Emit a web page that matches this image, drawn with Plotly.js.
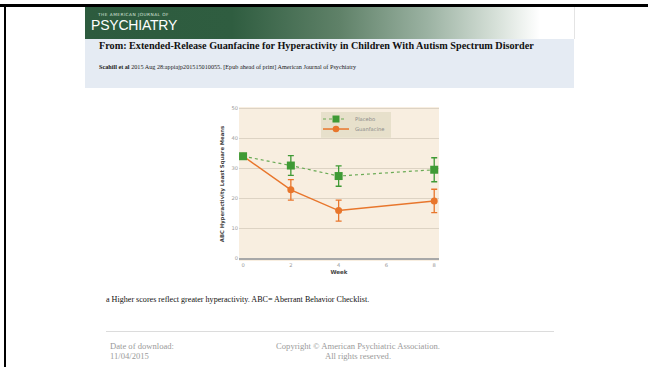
<!DOCTYPE html>
<html>
<head>
<meta charset="utf-8">
<script src="https://cdn.plot.ly/plotly-3.0.1.min.js"></script>
<style>
  html, body { margin:0; padding:0; background:#fff; }
  body { width:648px; height:367px; position:relative; overflow:hidden; font-family:"Liberation Serif","Times New Roman",serif; }
  .topbar { position:absolute; left:0; top:4px; width:648px; height:3px; background:#000; }
  .leftbar { position:absolute; left:4px; top:4px; width:2px; height:363px; background:#000; }
  .banner { position:absolute; left:85px; top:7px; width:489px; height:32px;
    background:linear-gradient(to right, #2d5b3e 0%, #2f5d40 30%, #5f8168 52%, #9bb2a2 70%, #d6e0d8 84%, #ffffff 93%, #ffffff 100%);
    border-right:1px solid #e4e4e4; }
  .banner .small { position:absolute; left:13px; top:5px; font-family:"DejaVu Sans",sans-serif; font-size:4.3px; color:#d8e4da; letter-spacing:0.45px; white-space:nowrap; }
  .banner .big { position:absolute; left:6px; top:10px; font-family:"Liberation Sans",Arial,sans-serif; font-size:14px; color:#fff; white-space:nowrap; letter-spacing:-0.2px; }
  .infobox { position:absolute; left:85px; top:39px; width:489px; height:49px; background:#e5ebf3; }
  .t1 { position:absolute; left:14px; top:1px; font-size:10.2px; font-weight:bold; color:#111; white-space:nowrap; }
  .t2 { position:absolute; left:14px; top:24px; font-size:6.2px; color:#222; white-space:nowrap; }
  .foot { position:absolute; left:106px; top:295px; font-size:8.1px; color:#111; white-space:nowrap; }
  .hr { position:absolute; left:106px; top:331px; width:448px; height:1px; background:#dcdcdc; }
  .dl { position:absolute; left:110px; top:341px; font-size:8.6px; color:#9a9a9a; line-height:10px; white-space:nowrap; }
  .cp { position:absolute; left:238px; width:240px; top:341px; font-size:8.6px; color:#9a9a9a; line-height:10px; text-align:center; white-space:nowrap; }
  #chart { position:absolute; left:200px; top:95px; width:250px; height:185px; }
</style>
</head>
<body>
<div class="topbar"></div>
<div class="leftbar"></div>
<div class="banner">
  <div class="small">THE AMERICAN JOURNAL OF</div>
  <div class="big">PSYCHIATRY</div>
</div>
<div class="infobox">
  <div class="t1">From: Extended-Release Guanfacine for Hyperactivity in Children With Autism Spectrum Disorder</div>
  <div class="t2"><b>Scahill et al</b> 2015 Aug 28:appiajp201515010055. [Epub ahead of print] American Journal of Psychiatry</div>
</div>
<div id="chart"></div>
<div class="foot">a Higher scores reflect greater hyperactivity. ABC= Aberrant Behavior Checklist.</div>
<div class="hr"></div>
<div class="dl">Date of download:<br>11/04/2015</div>
<div class="cp">Copyright © American Psychiatric Association.<br>All rights reserved.</div>
<script>
const weeks = [0, 2, 4, 8];
const placebo = [34.1, 31.0, 27.5, 29.6];
const placeboErr = [0, 3.3, 3.4, 4.0];
const guanfacine = [34.1, 22.9, 16.0, 19.2];
const guanfacineErr = [0, 3.4, 3.5, 3.9];
const xTicks = [0, 2, 4, 6, 8];
const yTicks = [0, 10, 20, 30, 40, 50];
const seriesNames = ['Placebo', 'Guanfacine'];

const green = '#3f9a35';
const orange = '#e8762c';

const traces = [
  {
    x: weeks, y: guanfacine, name: seriesNames[1], type: 'scatter', mode: 'lines+markers',
    line: {color: orange, width: 1.5},
    marker: {color: orange, size: 7, symbol: 'circle'},
    error_y: {type: 'data', array: guanfacineErr, visible: true, color: orange, thickness: 1.3, width: 3}
  },
  {
    x: weeks, y: placebo, name: seriesNames[0], type: 'scatter', mode: 'lines+markers',
    line: {color: '#6aaa55', width: 1.2, dash: 'dot'},
    marker: {color: green, size: 8, symbol: 'square'},
    error_y: {type: 'data', array: placeboErr, visible: true, color: green, thickness: 1.3, width: 3}
  }
];

// compact legend drawn in paper coordinates
const legY = [0.922, 0.857];
const shapes = [
  {type: 'rect', xref: 'paper', yref: 'paper', x0: 0.41, x1: 0.76, y0: 0.80, y1: 0.968,
   fillcolor: '#e7e0cb', line: {width: 0}, layer: 'above'},
  {type: 'line', xref: 'paper', yref: 'paper', x0: 0.42, x1: 0.54, y0: legY[0], y1: legY[0],
   line: {color: '#6aaa55', width: 1.2, dash: 'dot'}},
  {type: 'rect', xref: 'paper', yref: 'paper', xsizemode: 'pixel', ysizemode: 'pixel',
   xanchor: 0.485, yanchor: legY[0], x0: -3.5, x1: 3.5, y0: -3.5, y1: 3.5,
   fillcolor: green, line: {width: 0}},
  {type: 'line', xref: 'paper', yref: 'paper', x0: 0.42, x1: 0.55, y0: legY[1], y1: legY[1],
   line: {color: orange, width: 1.5}},
  {type: 'circle', xref: 'paper', yref: 'paper', xsizemode: 'pixel', ysizemode: 'pixel',
   xanchor: 0.485, yanchor: legY[1], x0: -3.3, x1: 3.3, y0: -3.3, y1: 3.3,
   fillcolor: orange, line: {width: 0}}
];
const annotations = seriesNames.map((n, i) => ({
  xref: 'paper', yref: 'paper', x: 0.57, y: legY[i], xanchor: 'left', yanchor: 'middle',
  text: n, showarrow: false, font: {size: 5.2, color: '#8a8a8a'}
}));

const layout = {
  width: 250, height: 185,
  margin: {l: 39, r: 11, t: 12, b: 19},
  paper_bgcolor: '#ffffff',
  plot_bgcolor: '#f8eee0',
  font: {family: 'DejaVu Sans, sans-serif', size: 5, color: '#999'},
  showlegend: false,
  shapes: shapes,
  annotations: annotations,
  xaxis: {
    range: [-0.17, 8.2], tickvals: xTicks, ticktext: xTicks.map(String),
    showgrid: false, zeroline: false, showline: false, ticks: '',
    tickfont: {size: 5.2, color: '#999'},
    title: {text: '<b>Week</b>', font: {size: 5.5, color: '#444'}, standoff: 2}
  },
  yaxis: {
    range: [-0.8, 50.5], tickvals: yTicks, ticktext: yTicks.map(String),
    showgrid: true, gridcolor: '#ddd3c4', gridwidth: 1.3,
    zeroline: true, zerolinecolor: '#a8a8a8', zerolinewidth: 2,
    showline: false, ticks: '',
    tickfont: {size: 5.2, color: '#999'},
    title: {text: '<b>ABC Hyperactivity Least Square Means</b>', font: {size: 5.3, color: '#444'}, standoff: 6}
  }
};

Plotly.newPlot('chart', traces, layout, {staticPlot: true, displayModeBar: false});
</script>
</body>
</html>
